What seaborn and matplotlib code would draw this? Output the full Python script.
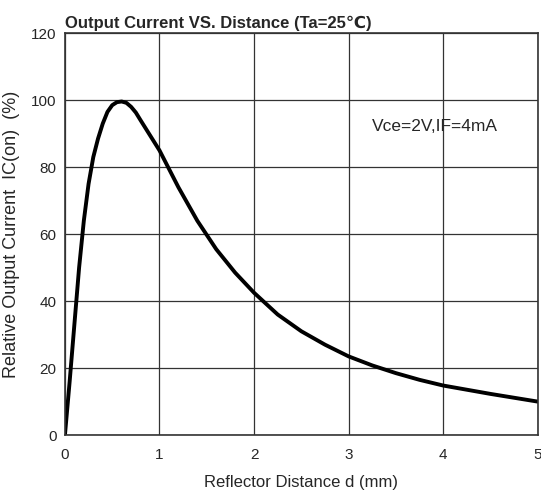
import pandas as pd
import seaborn as sns
import matplotlib.pyplot as plt

# curve
distance = [0.0, 0.05, 0.1, 0.15, 0.2, 0.25, 0.3, 0.35, 0.4, 0.45, 0.5, 0.55, 0.6,
            0.65, 0.7, 0.75, 0.8, 0.9, 1.0, 1.1, 1.2, 1.4, 1.6, 1.8, 2.0, 2.25,
            2.5, 2.75, 3.0, 3.25, 3.5, 3.75, 4.0, 4.5, 5.0]
current = [0.0, 16, 33, 50, 64, 75, 83, 88.5, 93, 96.5, 98.5, 99.4, 99.6,
           99.2, 98, 96.3, 94, 89.5, 85, 79.5, 74, 64, 55.5, 48.5, 42.5, 36,
           31, 27, 23.5, 20.8, 18.5, 16.5, 14.8, 12.3, 10]
x_ticks = [0, 1, 2, 3, 4, 5]
y_ticks = [0, 20, 40, 60, 80, 100, 120]

df = pd.DataFrame({'d': distance, 'ic': current})

sns.set_style('white')
plt.rcParams['font.family'] = ['Liberation Sans', 'DejaVu Sans']

fig = plt.figure(figsize=(5.41, 4.95), dpi=100)
ax = fig.add_axes([0.120, 0.121, 0.874, 0.812])
sns.lineplot(data=df, x='d', y='ic', color='black', linewidth=2.8, ax=ax)

ax.set_xlim(0, 5)
ax.set_ylim(0, 120)
ax.set_xticks(x_ticks)
ax.set_yticks(y_ticks)
ax.grid(True, color='#333333', linewidth=0.9)
for s in ax.spines.values():
    s.set_color('#333333')
    s.set_linewidth(1.2)
ax.tick_params(length=0, labelsize=11)
ax.tick_params(axis='x', pad=9)
ax.tick_params(axis='y', pad=6)

ax.set_xlabel('Reflector Distance d (mm)', fontsize=12, labelpad=10)
ax.set_ylabel('Relative Output Current  IC(on)  (%)', fontsize=13, labelpad=8)
ax.text(0.0, 1.005, 'Output Current VS. Distance (Ta=25\u2103)', transform=ax.transAxes,
        fontsize=12, fontweight='bold', ha='left', va='bottom')
ax.text(3.25, 92, 'Vce=2V,IF=4mA', fontsize=12.5, ha='left', va='center')

fig.savefig('out.png', dpi=100)
